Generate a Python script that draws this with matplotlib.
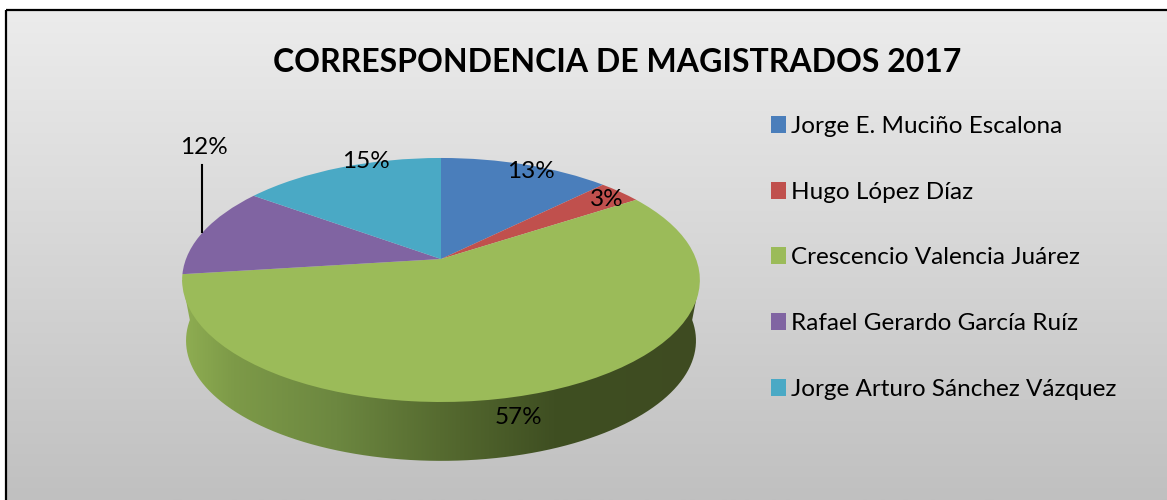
import numpy as np
import matplotlib
matplotlib.use("Agg")
import matplotlib.pyplot as plt
from matplotlib.path import Path
from matplotlib.patches import PathPatch, Rectangle
from matplotlib.colors import LinearSegmentedColormap
from matplotlib.transforms import Transform

plt.rcParams['font.family'] = ['Lato', 'DejaVu Sans']

title = "CORRESPONDENCIA DE MAGISTRADOS 2017"
names = ["Jorge E. Muciño Escalona", "Hugo López Díaz", "Crescencio Valencia Juárez",
         "Rafael Gerardo García Ruíz", "Jorge Arturo Sánchez Vázquez"]
shares = [12.6, 3.2, 57.2, 12.0, 15.0]
colors = ["#4a7ebb", "#c0504d", "#9bbb59", "#8064a2", "#4aa9c5"]
side_colors = [(0, "#8fae52"), (0.1, "#7d9a48"), (0.3, "#6c8740"), (0.5, "#566b30"),
               (0.72, "#3f4f22"), (1, "#3e4b21")]

# pie is tilted, far side is squeezed, so unit circle -> picture pixels
cx, cy = 441, 259
a, b, k = 255, 118.4, 0.172


class Tilt(Transform):
    input_dims = 2
    output_dims = 2

    def __init__(self, drop=0, scale=1):
        super().__init__()
        self.drop = drop
        self.scale = scale

    def transform_non_affine(self, xy):
        xy = np.asarray(xy)
        w = 1 + k * xy[:, 1]
        x = cx + self.scale * a * xy[:, 0] / w
        y = cy + self.drop - self.scale * b * xy[:, 1] / w
        return np.column_stack([x, y])


fig = plt.figure(figsize=(11.67, 5), dpi=100)
ax = fig.add_axes([0, 0, 1, 1])

wedges, _ = ax.pie(shares, colors=colors, startangle=90, counterclock=False,
                   wedgeprops={"linewidth": 0})

ax.set_aspect("auto")
ax.axis("off")

# background panel
grad = np.linspace(0, 1, 256).reshape(-1, 1)
bg = LinearSegmentedColormap.from_list("bg", ["#ececec", "#c0c0c0"])
panel = Rectangle((6, 10), 1170, 500, facecolor="none", edgecolor="black", linewidth=1.6, zorder=1)
ax.add_patch(panel)
ax.imshow(grad, extent=(6, 1167, 500, 10), cmap=bg, aspect="auto", zorder=0.5)

# side wall of the pie
t = np.linspace(0, np.pi, 200)
ring = np.column_stack([np.cos(t), -np.sin(t)])
top_edge = Tilt().transform(ring)
low_edge = Tilt(drop=61, scale=0.985).transform(ring)
outline = np.vstack([low_edge, top_edge[[np.argmin(top_edge[:, 0]), np.argmax(top_edge[:, 0])]]])
side = LinearSegmentedColormap.from_list("side", side_colors)
clip = PathPatch(Path(outline), transform=ax.transData, facecolor="none", edgecolor="none")
ax.add_patch(clip)
wall = ax.imshow(np.linspace(0, 1, 256).reshape(1, -1), extent=(181, 699, 470, 270),
                 cmap=side, aspect="auto", zorder=2)
wall.set_clip_path(clip)
ax.set_xlim(0, 1167)
ax.set_ylim(500, 0)

for w in wedges:
    w.set_transform(Tilt() + ax.transData)
    w.set_zorder(3)

ax.text(617, 63, title, ha="center", va="center", fontsize=23, fontweight="bold", color="black", zorder=5)

# labels were dragged by hand in the original
label_pos = [(531, 172), (607, 199), (518, 418), (204, 148), (366, 161)]
for v, (x, y) in zip(shares, label_pos):
    ax.text(x, y, f"{v:.0f}%", ha="center", va="center", fontsize=17.5, color="black", zorder=5)
ax.plot([202, 202], [165, 232], color="black", linewidth=1.5, zorder=4)

leg = ax.legend(wedges, names, loc="upper left", bbox_to_anchor=(771 / 1167, 1 - 116 / 500),
                frameon=False, fontsize=17.5, handlelength=0.62, handleheight=0.7,
                handletextpad=0.2, labelspacing=1.84, borderpad=0, borderaxespad=0)
leg.set_zorder(5)

fig.savefig("out.png", dpi=100)
